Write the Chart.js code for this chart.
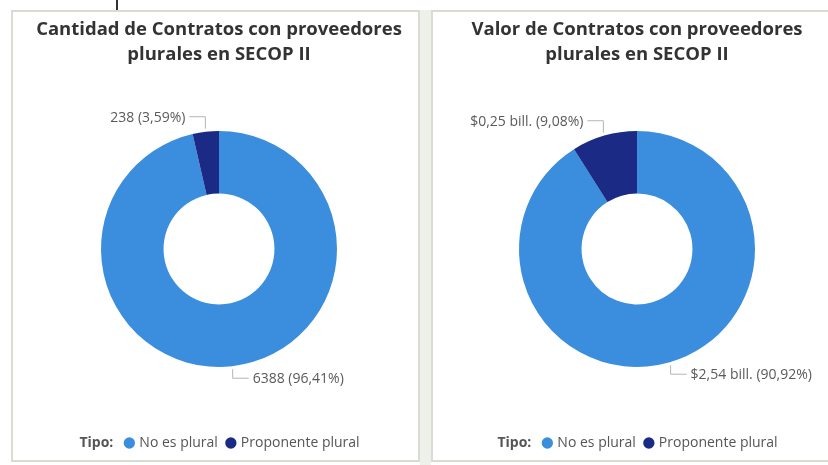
<!DOCTYPE html>
<html>
<head>
<meta charset="utf-8">
<script src="https://cdn.jsdelivr.net/npm/chart.js@4.4.1/dist/chart.umd.min.js"></script>
<style>
    body { margin: 0; width: 828px; height: 465px; overflow: hidden; background: #ffffff; position: relative; font-family: 'Open Sans', sans-serif; }
    .gap { position: absolute; left: 420px; top: 10px; width: 11px; height: 455px; background: #eef0ea; }
    .panel { position: absolute; top: 10px; height: 448px; border: 2px solid #d8dcd2; background: #ffffff; }
    #panel1 { left: 11px; width: 405px; }
    #panel2 { left: 431px; width: 408px; }
    .panel canvas { display: block; }
    .tick { position: absolute; left: 116px; top: 0; width: 2px; height: 16px; background: #333; }
</style>
</head>
<body>
<div class="tick"></div>
<div class="gap"></div>
<div class="panel" id="panel1"><canvas id="chart1" width="405" height="448"></canvas></div>
<div class="panel" id="panel2"><canvas id="chart2" width="408" height="448"></canvas></div>
<script>
const categorias = ['No es plural', 'Proponente plural'];
const colores = ['#3b8ddd', '#1b2a85'];

const cantidadContratos = [6388, 238];
const pctCantidad = [96.41, 3.59];

const valorContratos = [2.54, 0.25]; // billones
const pctValor = [90.92, 9.08];

const fuente = "'Open Sans', sans-serif";

function coma(n) {
    return n.toFixed(2).replace('.', ',');
}

// etiquetas con linea guia
const etiquetasPlugin = {
    id: 'etiquetas',
    afterDatasetsDraw(chart, args, opts) {
        const ctx = chart.ctx;
        const arcs = chart.getDatasetMeta(0).data;
        ctx.save();
        ctx.font = '14px ' + fuente;
        ctx.textBaseline = 'middle';
        arcs.forEach((arc, i) => {
            const p = arc.getProps(['x', 'y', 'startAngle', 'endAngle', 'outerRadius'], true);
            const mid = (p.startAngle + p.endAngle) / 2;
            const ax = p.x + Math.cos(mid) * (p.outerRadius + 3);
            const ay = p.y + Math.sin(mid) * (p.outerRadius + 3);
            const dir = ax < p.x ? -1 : 1;
            const ly = ay < p.y ? ay - 12 : ay + 9;
            ctx.strokeStyle = '#b5b5b5';
            ctx.lineWidth = 1;
            ctx.beginPath();
            ctx.moveTo(ax, ay);
            ctx.lineTo(ax, ly);
            ctx.lineTo(ax + dir * 16, ly);
            ctx.stroke();
            ctx.fillStyle = '#5a5a5a';
            ctx.textAlign = dir < 0 ? 'right' : 'left';
            ctx.fillText(opts.textos[i], ax + dir * 20, ly + 1);
        });
        ctx.restore();
    }
};

// "Tipo:" delante de la leyenda
const tipoPlugin = {
    id: 'tipo',
    afterLayout(chart) {
        chart.legend.left += 24;
        chart.legend.right += 24;
    },
    afterDraw(chart) {
        const hb = chart.legend.legendHitBoxes[0];
        if (!hb) return;
        const ctx = chart.ctx;
        ctx.save();
        ctx.font = 'bold 14px ' + fuente;
        ctx.fillStyle = '#555555';
        ctx.textAlign = 'right';
        ctx.textBaseline = 'middle';
        ctx.fillText('Tipo:', hb.left - 13, hb.top + hb.height / 2);
        ctx.restore();
    }
};

function crearDona(id, titulo, valores, textos, izq) {
    const ctx = document.getElementById(id).getContext('2d');
    return new Chart(ctx, {
        type: 'doughnut',
        data: {
            labels: categorias,
            datasets: [{
                data: valores,
                backgroundColor: colores,
                borderWidth: 0,
                radius: 118,
                cutout: '47%'
            }]
        },
        options: {
            responsive: false,
            animation: false,
            layout: { padding: { left: izq, right: 0, top: 0, bottom: 0 } },
            plugins: {
                title: {
                    display: true,
                    text: titulo,
                    color: '#333333',
                    font: { family: fuente, size: 18.5, weight: 'bold', lineHeight: 1.35 },
                    padding: { top: 5, bottom: 5 }
                },
                legend: {
                    position: 'bottom',
                    labels: {
                        usePointStyle: true,
                        pointStyle: 'circle',
                        boxWidth: 6,
                        boxHeight: 8,
                        color: '#555555',
                        font: { family: fuente, size: 14 },
                        padding: 10
                    }
                },
                tooltip: { enabled: false },
                etiquetas: { textos: textos }
            }
        },
        plugins: [etiquetasPlugin, tipoPlugin]
    });
}

crearDona('chart1',
    ['Cantidad de Contratos con proveedores', 'plurales en SECOP II'],
    cantidadContratos,
    cantidadContratos.map((v, i) => v + ' (' + coma(pctCantidad[i]) + '%)'), 7);

crearDona('chart2',
    ['Valor de Contratos con proveedores', 'plurales en SECOP II'],
    valorContratos,
    valorContratos.map((v, i) => '$' + coma(v) + ' bill. (' + coma(pctValor[i]) + '%)'), 0);
</script>
</body>
</html>
